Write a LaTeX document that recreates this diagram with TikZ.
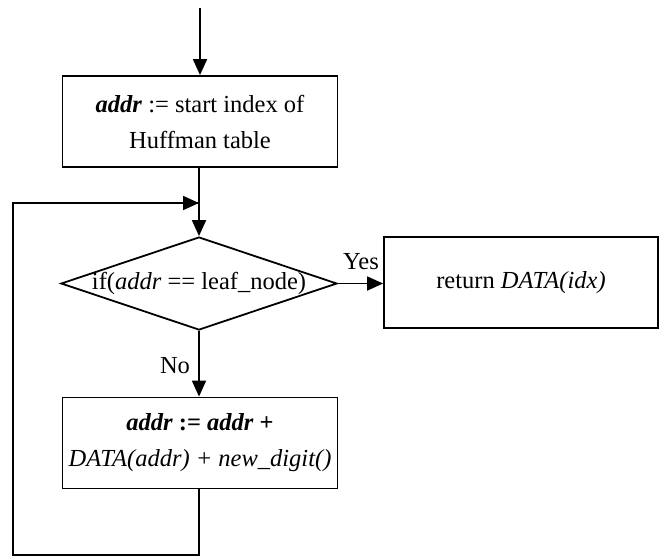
\documentclass[tikz,border=0pt]{standalone}
\usepackage{fontspec}
\setmainfont{Liberation Serif}
\usetikzlibrary{shapes.geometric,arrows.meta}
\tikzset{
  flowbox/.style={draw, line width=1.8pt, minimum width=275pt, minimum height=91pt, inner sep=0pt, align=center,
    font=\fontsize{24.5}{36}\selectfont},
  decide/.style={draw, diamond, line width=1.8pt, minimum width=276pt, minimum height=93pt, inner sep=0pt,
    font=\fontsize{24.5}{36}\selectfont},
  lbl/.style={font=\fontsize{24.5}{28}\selectfont, inner sep=0pt},
  conn/.style={line width=1.8pt, -{Triangle[length=16pt,width=14pt]}},
  plain/.style={line width=1.8pt}
}
\begin{document}
\begin{tikzpicture}[x=1pt,y=-1pt]
\useasboundingbox (0,0) rectangle (668,558);
\coordinate (start) at (200,8);
\node[flowbox] (init) at (200,121.5) {\textbf{\textit{addr}} := start index of\\Huffman table};
\node[decide] (test) at (199,283.5) {\makebox[0pt]{if(\textit{addr} == leaf\_node)}};
\node[flowbox, minimum width=274pt] (ret) at (521,282.5) {return \textit{DATA(idx)}};
\node[flowbox] (step) at (200,443) {\textbf{\textit{addr}} \textbf{:=} \textbf{\textit{addr} +}\\\textit{DATA(addr) + new\_digit()}};
\coordinate (join) at (199,203);
\coordinate (c1) at (199,555);
\coordinate (c2) at (13,555);
\coordinate (c3) at (13,203);
\draw[conn] (start) -- (init.north);
\draw[conn] (init.south -| join) -- (test.north);
\draw[conn] (test.east) -- (ret.west |- test.east);
\draw[conn] (test.south) -- (step.north -| test.south);
\draw[plain] (step.south -| c1) -- (c1) -- (c2) -- (c3) -- (join);
\draw[conn] (c3) -- (join);
\node[lbl] (yes) at (361,262) {Yes};
\node[lbl] (no) at (175,366) {No};
\end{tikzpicture}
\end{document}
